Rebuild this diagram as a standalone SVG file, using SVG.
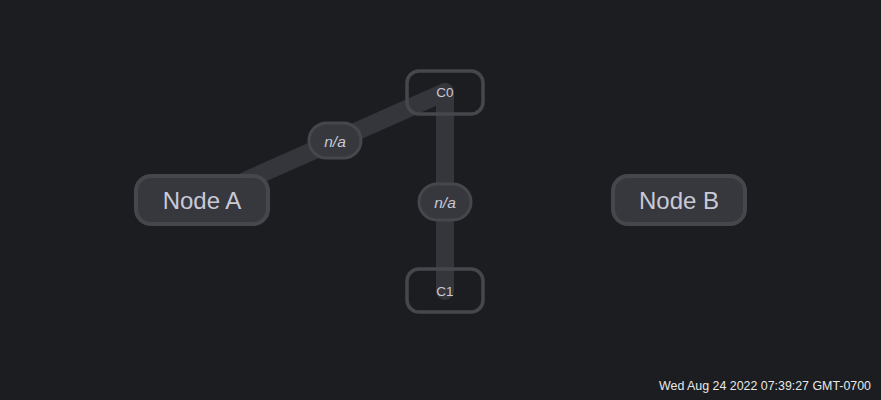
<svg xmlns="http://www.w3.org/2000/svg" width="881" height="400" viewBox="0 0 881 400">
<style>
.node rect{fill:#37383d;stroke:#45474c;stroke-width:4}
.comp rect{fill:none;stroke:#45474c;stroke-width:3.5}
.big{font-family:"Liberation Sans",Arial,sans-serif;font-size:24px;fill:#c9c9d8;text-anchor:middle;dominant-baseline:central}
.small{font-family:"Liberation Sans",Arial,sans-serif;font-size:13.5px;fill:#c9c9d8;text-anchor:middle;dominant-baseline:central}
.edge{stroke:#35363b;stroke-width:18;stroke-linecap:round;fill:none}
.lbl rect{fill:#37383d;stroke:#45474c;stroke-width:3}
.lbl text{font-family:"Liberation Sans",Arial,sans-serif;font-size:15.5px;font-style:italic;fill:#c9c9d8;text-anchor:middle;dominant-baseline:central}
</style>
<rect width="881" height="400" fill="#1b1d21"/>
<g id="connectors">
<line class="edge" x1="202" y1="200" x2="445" y2="92"/>
<line class="edge" x1="445" y1="92" x2="445" y2="291"/>
<g class="lbl"><rect x="309" y="123" width="52" height="35" rx="17.5"/><text x="335" y="141">n/a</text></g>
<g class="lbl"><rect x="419" y="184" width="52" height="36" rx="18"/><text x="445" y="202">n/a</text></g>
</g>
<g id="nodeA" class="node"><rect x="136" y="176" width="132" height="48" rx="15"/><text class="big" x="202" y="200">Node A</text></g>
<g id="nodeB" class="node"><rect x="613" y="176" width="132" height="48" rx="15"/><text class="big" x="679" y="200">Node B</text></g>
<g id="C0" class="comp"><rect x="407" y="71" width="76" height="43" rx="12"/><text class="small" x="445" y="92">C0</text></g>
<g id="C1" class="comp"><rect x="407" y="269" width="76" height="43" rx="12"/><text class="small" x="445" y="291">C1</text></g>
<text x="871" y="390" font-family="Liberation Sans,Arial,sans-serif" font-size="12.4" fill="#e8e8e8" text-anchor="end">Wed Aug 24 2022 07:39:27 GMT-0700</text>
</svg>
